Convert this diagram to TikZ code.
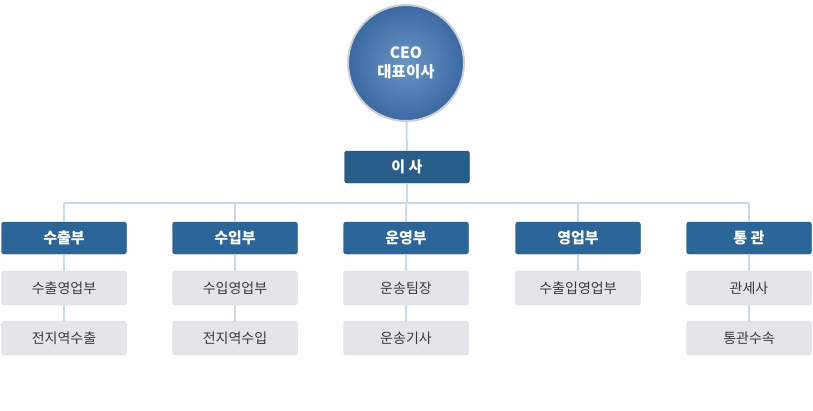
\documentclass[tikz,border=0pt]{standalone}
\usepackage{fontspec}
\newfontfamily\krfont{Noto Sans CJK KR}
\definecolor{deptblue}{HTML}{2C6698}
\definecolor{deptedge}{HTML}{1E4E7C}
\definecolor{teamgray}{HTML}{E4E5E8}
\definecolor{teamedge}{HTML}{D6D8DC}
\definecolor{teamtext}{HTML}{3A3A3A}
\definecolor{linkblue}{HTML}{C9D8EA}
\definecolor{ceoin}{HTML}{6A95C8}
\definecolor{ceoout}{HTML}{3C69A2}
\definecolor{ceorim}{HTML}{CDD1D6}
\begin{document}
\begin{tikzpicture}[x=1pt, y=-1pt,
	dept/.style={draw=deptedge, fill=deptblue, rounded corners=2.5pt, minimum width=125pt, minimum height=32pt, text=white, font=\krfont\bfseries\fontsize{15}{17}\selectfont},
	team/.style={draw=teamedge, fill=teamgray, rounded corners=3pt, minimum width=125pt, minimum height=34pt, text=teamtext, font=\krfont\fontsize{14}{16}\selectfont},
	link/.style={draw=linkblue, line width=2pt}]
	\useasboundingbox (0,0) rectangle (813,410);

	% top
	\node[circle, minimum size=116pt, draw=ceorim, line width=2pt, inner color=ceoin, outer color=ceoout, text=white, align=center, font=\krfont\bfseries\fontsize{15.5}{19}\selectfont] (ceo) at (406,63) {CEO\\대표이사};
	\node[dept, fill=deptblue!90!black] (board) at (407,167) {이 사};

	% departments
	\foreach \name/\x/\label in {exp/64/수출부, imp/235/수입부, ops/406/운영부, sales/578/영업부, cust/749/통 관}
		\node[dept] (\name) at (\x,238) {\label};

	% teams
	\node[team] (exp1) at (64,288) {수출영업부};
	\node[team] (exp2) at (64,338) {전지역수출};
	\node[team] (imp1) at (235,288) {수입영업부};
	\node[team] (imp2) at (235,338) {전지역수입};
	\node[team] (ops1) at (406,288) {운송팀장};
	\node[team] (ops2) at (406,338) {운송기사};
	\node[team] (sales1) at (578,288) {수출입영업부};
	\node[team] (cust1) at (749,288) {관세사};
	\node[team] (cust2) at (749,338) {통관수속};

	% connectors
	\coordinate (busL) at (64,203);
	\coordinate (busR) at (749,203);
	\draw[link] (ceo) -- (board);
	\draw[link] (board) -- (board |- busL);
	\draw[link] (busL) -- (busR);
	\foreach \name in {exp, imp, ops, sales, cust}
		\draw[link] (\name |- busL) -- (\name);
	\foreach \a/\b in {exp/exp1, exp1/exp2, imp/imp1, imp1/imp2, ops/ops1, ops1/ops2, sales/sales1, cust/cust1, cust1/cust2}
		\draw[link] (\a) -- (\b);

\end{tikzpicture}
\end{document}
